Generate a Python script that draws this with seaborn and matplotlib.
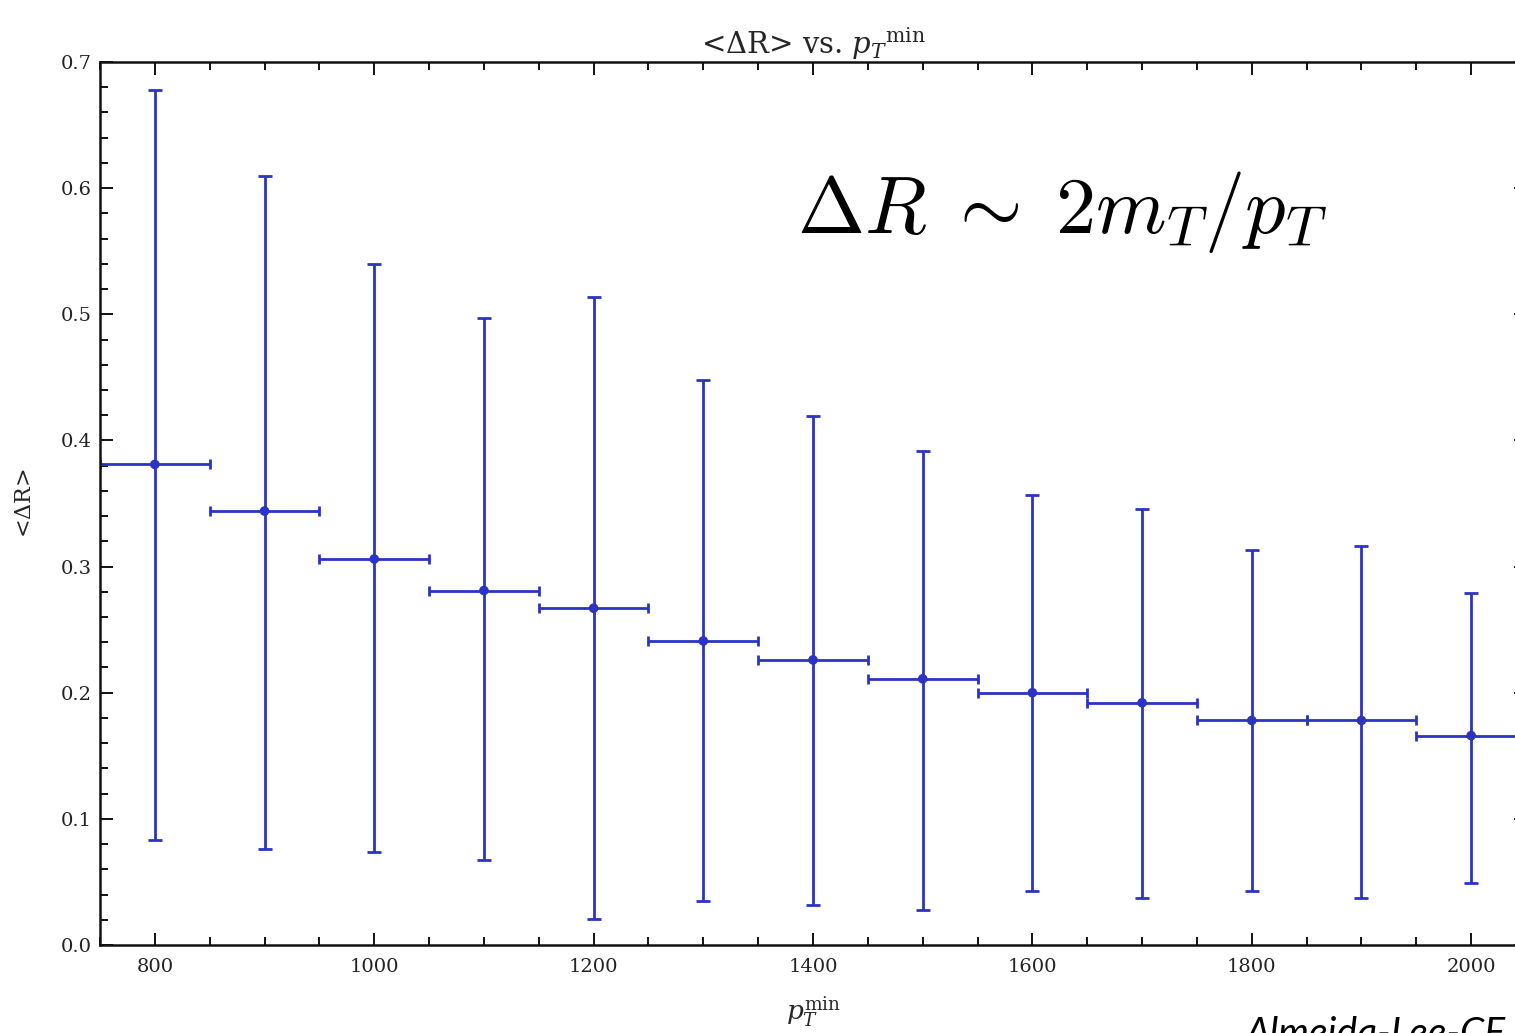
import numpy as np
import pandas as pd
import matplotlib
matplotlib.use("Agg")
import matplotlib.pyplot as plt
import seaborn as sns
from matplotlib.ticker import MultipleLocator, FormatStrFormatter

# Mean angular separation per pT_min bin
pt_min = [800, 900, 1000, 1100, 1200, 1300, 1400, 1500, 1600, 1700, 1800, 1900, 2000]
mean_dr = [0.381, 0.344, 0.306, 0.281, 0.267, 0.241, 0.226, 0.211, 0.200, 0.192, 0.178, 0.178, 0.166]
dr_high = [0.678, 0.610, 0.540, 0.497, 0.514, 0.448, 0.419, 0.392, 0.357, 0.346, 0.313, 0.316, 0.279]
dr_low = [0.083, 0.076, 0.074, 0.067, 0.021, 0.035, 0.032, 0.028, 0.043, 0.037, 0.043, 0.037, 0.049]
bin_half_width = [50] * len(pt_min)

df = pd.DataFrame({"pt": pt_min, "dr": mean_dr, "hi": dr_high, "lo": dr_low,
                   "bw": bin_half_width})

sns.set_style("ticks")
plt.rcParams["font.family"] = ["DejaVu Serif"]
plt.rcParams["mathtext.fontset"] = "dejavuserif"

W, H = 1515, 1033
fig = plt.figure(figsize=(W / 100, H / 100), dpi=100)
ax = fig.add_axes([100 / W, 1 - 945 / H, (1526 - 100) / W, (945 - 62) / H])

blue = "#2a33c6"
ax.errorbar(df["pt"], df["dr"],
            yerr=[df["dr"] - df["lo"], df["hi"] - df["dr"]],
            fmt="none", ecolor=blue, elinewidth=2.0, capsize=5, capthick=2.0, zorder=2)
ax.errorbar(df["pt"], df["dr"], xerr=df["bw"],
            fmt="none", ecolor=blue, elinewidth=2.0, capsize=3.5, capthick=2.0, zorder=2)
sns.scatterplot(data=df, x="pt", y="dr", ax=ax, color=blue, s=48,
                edgecolor="none", zorder=3)

ax.set_xlim(750, 2050)
ax.set_ylim(0, 0.7)
ax.xaxis.set_major_locator(MultipleLocator(200))
ax.xaxis.set_minor_locator(MultipleLocator(50))
ax.yaxis.set_major_locator(MultipleLocator(0.1))
ax.yaxis.set_minor_locator(MultipleLocator(0.02))
ax.yaxis.set_major_formatter(FormatStrFormatter("%.1f"))

for side in ["left", "bottom", "top", "right"]:
    ax.spines[side].set_visible(True)
    ax.spines[side].set_linewidth(1.8)
    ax.spines[side].set_color("#111111")
ax.tick_params(which="both", direction="in", top=True, right=True,
               color="#111111", width=1.4)
ax.tick_params(which="major", length=9, labelsize=14, pad=6, labelcolor="#222222")
ax.tick_params(which="minor", length=6)
ax.tick_params(axis="x", which="major", pad=9)

ax.set_xlabel(r"$p_T^{\mathrm{min}}$", fontsize=19, labelpad=14)
ax.set_ylabel(r"<$\Delta$R>", fontsize=16, labelpad=18)
ax.set_title(r"<$\Delta$R> vs. $p_T{}^{\mathrm{min}}$", fontsize=21, pad=4)

fig.text(797 / W, 1 - 233 / H, r"$\Delta R \;\sim\; 2m_T/p_T$", fontsize=58,
         math_fontfamily="cm", ha="left", va="baseline", color="black")
fig.text(1245 / W, 1 - 1045 / H, "Almeida-Lee-CF", fontsize=28,
         family="Lato", style="italic", ha="left", va="baseline", color="black")

fig.savefig("out.png", dpi=100)
